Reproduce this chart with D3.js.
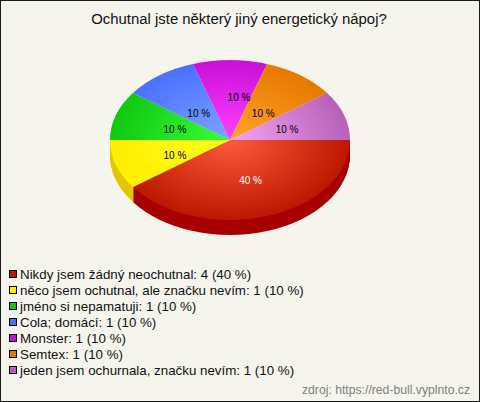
<!DOCTYPE html>
<html><head><meta charset="utf-8">
<script src="https://cdn.jsdelivr.net/npm/d3@7/dist/d3.min.js"></script>
<style>html,body{margin:0;padding:0;background:#f5f5ed}svg{display:block}text{font-family:"Liberation Sans",Arial,sans-serif}</style>
</head><body><script>
const titleText = "Ochutnal jste některý jiný energetický nápoj?";
const sourceText = "zdroj: https://red-bull.vyplnto.cz";
const categories = ["Nikdy jsem žádný neochutnal","něco jsem ochutnal, ale značku nevím","jméno si nepamatuji","Cola; domácí","Monster","Semtex","jeden jsem ochurnala, značku nevím"];
const counts = [4,1,1,1,1,1,1];
const percents = [40,10,10,10,10,10,10];
const baseColors = ["#bc1800","#ffee00","#10c810","#4a70ff","#c810d8","#e87800","#b860b8"];
const innerColors = ["#ff5a3c","#ffff20","#38ff38","#7ca4ff","#ff40ff","#ffa428","#f4a4f4"];
const sideColors = ["#a80000","#e0c800","#0a9a0a","#3050c0","#9a0aa8","#b05a00","#8a488a"];
const swatchColors = ["#c01800","#ffee00","#10c810","#4a70ff","#c810d8","#e87800","#b860b8"];
const labelNudge = [[2,-1],[2,1],[2,0],[4,5],[9,-3],[-2,5],[0,0]];

const W=480,H=402,cx=230,cy=140,rx=120,ry=80,depth=15;
const svg=d3.select("body").append("svg").attr("width",W).attr("height",H);
svg.append("rect").attr("x",.5).attr("y",.5).attr("width",W-1).attr("height",H-1).attr("fill","#f5f5ed").attr("stroke","#1a1a1a");
svg.append("text").attr("x",239).attr("y",24).attr("text-anchor","middle").attr("font-size",14.9).attr("fill","#111").text(titleText);

const defs=svg.append("defs");
innerColors.forEach((c,i)=>{
  const g=defs.append("radialGradient").attr("id","g"+i).attr("gradientUnits","userSpaceOnUse").attr("cx",0).attr("cy",0).attr("r",rx);
  g.append("stop").attr("offset",0).attr("stop-color",c);
  g.append("stop").attr("offset",1).attr("stop-color",baseColors[i]);
});
const yScale=ry/rx;
// pie starts at the east and runs clockwise, as in the reference
const pie=d3.pie().sort(null).value(d=>d).startAngle(Math.PI/2).endAngle(Math.PI/2+2*Math.PI);
const arcs=pie(counts);
const arc=d3.arc().innerRadius(0).outerRadius(rx);
const labelArc=d3.arc().innerRadius(rx*0.5).outerRadius(rx*0.5);
const lift=d3.range(depth,0,-1);
lift.forEach(dy=>{
  svg.append("g").attr("transform",`translate(${cx},${cy+dy}) scale(1,${yScale})`)
    .selectAll("path").data(arcs.slice(0,2)).join("path")
    .attr("d",arc).attr("fill",(d,i)=>sideColors[i]);
});
const topFace=svg.append("g").attr("transform",`translate(${cx},${cy}) scale(1,${yScale})`);
topFace.selectAll("path").data(arcs).join("path").attr("d",arc).attr("fill",(d,i)=>`url(#g${i})`);
const fmt=p=>`${p} %`;
svg.append("g").selectAll("text").data(arcs).join("text")
  .attr("x",(d,i)=>cx+labelArc.centroid(d)[0]+labelNudge[i][0])
  .attr("y",(d,i)=>cy+2+labelArc.centroid(d)[1]*0.7+labelNudge[i][1]+3.5)
  .attr("text-anchor","middle").attr("font-size",10)
  .attr("fill",(d,i)=>i===0?"#fff":"#000")
  .text((d,i)=>fmt(percents[i]));

const rowY=d3.scaleBand().domain(d3.range(categories.length)).range([266,378]);
const legend=svg.append("g");
const rows=legend.selectAll("g").data(categories).join("g").attr("transform",(d,i)=>`translate(0,${rowY(i)})`);
rows.append("rect").attr("x",9.5).attr("y",4.5).attr("width",7).attr("height",7).attr("fill",(d,i)=>swatchColors[i]).attr("stroke","#000");
rows.append("text").attr("x",20).attr("y",13).attr("font-size",13.33).attr("fill","#111")
  .text((d,i)=>`${d}: ${counts[i]} (${percents[i]} %)`);
svg.append("text").attr("x",470).attr("y",394).attr("text-anchor","end").attr("font-size",12.2).attr("fill","#808080").text(sourceText);
</script></body></html>
